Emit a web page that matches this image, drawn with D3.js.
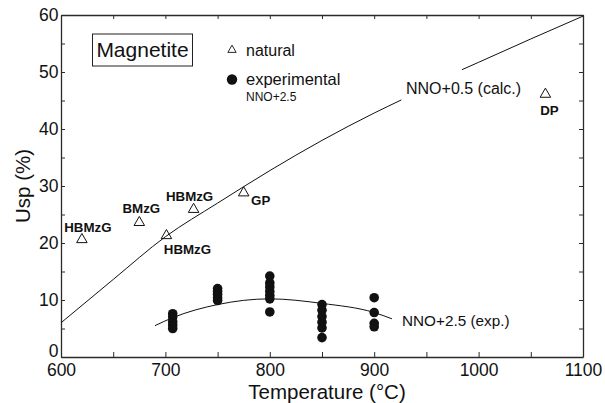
<!DOCTYPE html>
<html>
<head>
<meta charset="utf-8">
<script src="https://cdn.jsdelivr.net/npm/d3@7"></script>
<style>
  body { margin: 0; background: #fff; }
  svg { display: block; font-family: "Liberation Sans", Arial, Helvetica, sans-serif; }
</style>
</head>
<body>
<svg id="chart" width="605" height="403"></svg>
<script>
// natural samples (open triangles)
const natTemps = [620, 675, 701, 727, 775, 1064];
const natUsp = [20.6, 23.6, 21.3, 25.9, 28.8, 46.1];
const natNames = ['HBMzG', 'BMzG', 'HBMzG', 'HBMzG', 'GP', 'DP'];

// experimental runs at NNO+2.5 (filled dots), one column per temperature
const expTemps = [707, 750, 800, 850, 900];
const expUsp = [
  [7.6, 7.0, 6.2, 5.6, 5.0],
  [12.0, 11.5, 11.0, 10.4, 9.9],
  [14.2, 13.0, 12.3, 11.5, 10.8, 10.2, 7.9],
  [9.2, 8.2, 7.1, 6.1, 5.1, 3.4],
  [10.4, 7.8, 5.9, 5.3]
];

// NNO+0.5 calculated curve (broken around its label)
const calcTemps = [600, 650, 700, 750, 800, 850, 900, 926, 984, 1000, 1050, 1100];
const calcUsp = [6.0, 13.6, 21.1, 27.0, 32.7, 38.0, 42.8, 45.1, 50.4, 51.7, 55.8, 59.8];
const calcGap = [926, 984];

// NNO+2.5 experimental fit
const fitTemps = [690, 707, 750, 800, 850, 900, 917];
const fitUsp = [5.5, 6.9, 9.2, 10.2, 9.4, 7.8, 6.7];

const xTicks = [600, 650, 700, 750, 800, 850, 900, 950, 1000, 1050, 1100];
const yTicks = [0, 5, 10, 15, 20, 25, 30, 35, 40, 45, 50, 55, 60];

// label offsets for the natural samples (px from the marker)
const labelDx = [6, 2, 21, -4, 17, 4];
const labelDy = [-8, -9, 18, -8.5, 12, 20.5];

const svg = d3.select('#chart');
const x = d3.scaleLinear().domain([600, 1100]).range([61, 583]);
const y = d3.scaleLinear().domain([0, 60]).range([357, 15]);

// axes, ticks pointing inward
function styleAxis(g) {
  g.selectAll('path.domain').attr('stroke', '#2a2a2a').attr('stroke-width', 1.3);
  g.selectAll('.tick line').attr('stroke', '#2a2a2a').attr('stroke-width', 1);
  g.selectAll('.tick text').attr('fill', '#111').attr('font-size', 17.5).attr('font-family', null);
}

svg.append('g')
  .attr('transform', 'translate(0,357)')
  .call(d3.axisBottom(x).tickValues(xTicks).tickSizeInner(-5).tickSizeOuter(0).tickPadding(6.5)
    .tickFormat(d => d % 100 === 0 ? d : ''))
  .call(styleAxis);

svg.append('g')
  .attr('transform', 'translate(0,15)')
  .call(d3.axisTop(x).tickValues(xTicks).tickSizeInner(-4).tickSizeOuter(0).tickFormat(''))
  .call(styleAxis);

const yAxisG = svg.append('g')
  .attr('transform', 'translate(61,0)')
  .call(d3.axisLeft(y).tickValues(yTicks).tickSizeInner(-4).tickSizeOuter(0).tickPadding(2.5)
    .tickFormat(d => d % 10 === 0 ? d : ''))
  .call(styleAxis);

svg.append('g')
  .attr('transform', 'translate(583,0)')
  .call(d3.axisRight(y).tickValues(yTicks).tickSizeInner(-4).tickSizeOuter(0).tickFormat(''))
  .call(styleAxis);

// nudge the "0" label up a little so it clears "600"
yAxisG.selectAll('.tick text').filter(d => d === 0).attr('dy', '-0.05em');

// axis titles
svg.append('text')
  .attr('x', 327).attr('y', 398.5)
  .attr('text-anchor', 'middle')
  .attr('font-size', 20.5)
  .attr('fill', '#111')
  .text('Temperature (°C)');

svg.append('text')
  .attr('transform', 'translate(30,186) rotate(-90)')
  .attr('text-anchor', 'middle')
  .attr('font-size', 20.5)
  .attr('fill', '#111')
  .text('Usp (%)');

// curves
const line = d3.line()
  .x(d => x(d.t))
  .y(d => y(d.u))
  .curve(d3.curveMonotoneX);

const calc = calcTemps.map((t, i) => ({t: t, u: calcUsp[i]}));
[calc.filter(d => d.t <= calcGap[0]), calc.filter(d => d.t >= calcGap[1])].forEach(seg => {
  svg.append('path')
    .attr('d', line(seg))
    .attr('fill', 'none')
    .attr('stroke', '#111')
    .attr('stroke-width', 1);
});

const fit = fitTemps.map((t, i) => ({t: t, u: fitUsp[i]}));
svg.append('path')
  .attr('d', line(fit))
  .attr('fill', 'none')
  .attr('stroke', '#111')
  .attr('stroke-width', 1);

svg.append('text')
  .attr('x', 406).attr('y', 94)
  .attr('font-size', 16)
  .attr('fill', '#111')
  .text('NNO+0.5 (calc.)');

svg.append('text')
  .attr('x', 402).attr('y', 326)
  .attr('font-size', 15.3)
  .attr('fill', '#111')
  .text('NNO+2.5 (exp.)');

// experimental dots
const expPts = [];
expTemps.forEach((t, i) => expUsp[i].forEach(u => expPts.push({t: t, u: u})));

svg.append('g')
  .selectAll('circle')
  .data(expPts)
  .enter()
  .append('circle')
  .attr('cx', d => x(d.t))
  .attr('cy', d => y(d.u))
  .attr('r', 4.8)
  .attr('fill', '#111');

// natural triangles and names
const tri = d3.symbol().type(d3.symbolTriangle).size(48);
const nat = natTemps.map((t, i) => ({t: t, u: natUsp[i], name: natNames[i], dx: labelDx[i], dy: labelDy[i]}));

svg.append('g')
  .selectAll('path')
  .data(nat)
  .enter()
  .append('path')
  .attr('d', tri)
  .attr('transform', d => `translate(${x(d.t)},${y(d.u)})`)
  .attr('fill', 'none')
  .attr('stroke', '#111')
  .attr('stroke-width', 1);

svg.append('g')
  .selectAll('text')
  .data(nat)
  .enter()
  .append('text')
  .attr('x', d => x(d.t) + d.dx)
  .attr('y', d => y(d.u) + d.dy)
  .attr('text-anchor', 'middle')
  .attr('font-size', 13.3)
  .attr('font-weight', 'bold')
  .attr('fill', '#111')
  .text(d => d.name);

// title box and legend
svg.append('rect')
  .attr('x', 92.5).attr('y', 34)
  .attr('width', 100).attr('height', 32)
  .attr('fill', 'none')
  .attr('stroke', '#222')
  .attr('stroke-width', 1);

svg.append('text')
  .attr('x', 142.5).attr('y', 57)
  .attr('text-anchor', 'middle')
  .attr('font-size', 21)
  .attr('fill', '#111')
  .text('Magnetite');

svg.append('path')
  .attr('d', d3.symbol().type(d3.symbolTriangle).size(30)())
  .attr('transform', 'translate(232,50)')
  .attr('fill', 'none')
  .attr('stroke', '#111')
  .attr('stroke-width', 0.9);

svg.append('text')
  .attr('x', 246).attr('y', 55.5)
  .attr('font-size', 16)
  .attr('fill', '#111')
  .text('natural');

svg.append('circle')
  .attr('cx', 232).attr('cy', 79.5)
  .attr('r', 5.2)
  .attr('fill', '#111');

svg.append('text')
  .attr('x', 246).attr('y', 84.5)
  .attr('font-size', 16.5)
  .attr('fill', '#111')
  .text('experimental');

svg.append('text')
  .attr('x', 246).attr('y', 100.5)
  .attr('font-size', 12)
  .attr('fill', '#111')
  .text('NNO+2.5');
</script>
</body>
</html>
